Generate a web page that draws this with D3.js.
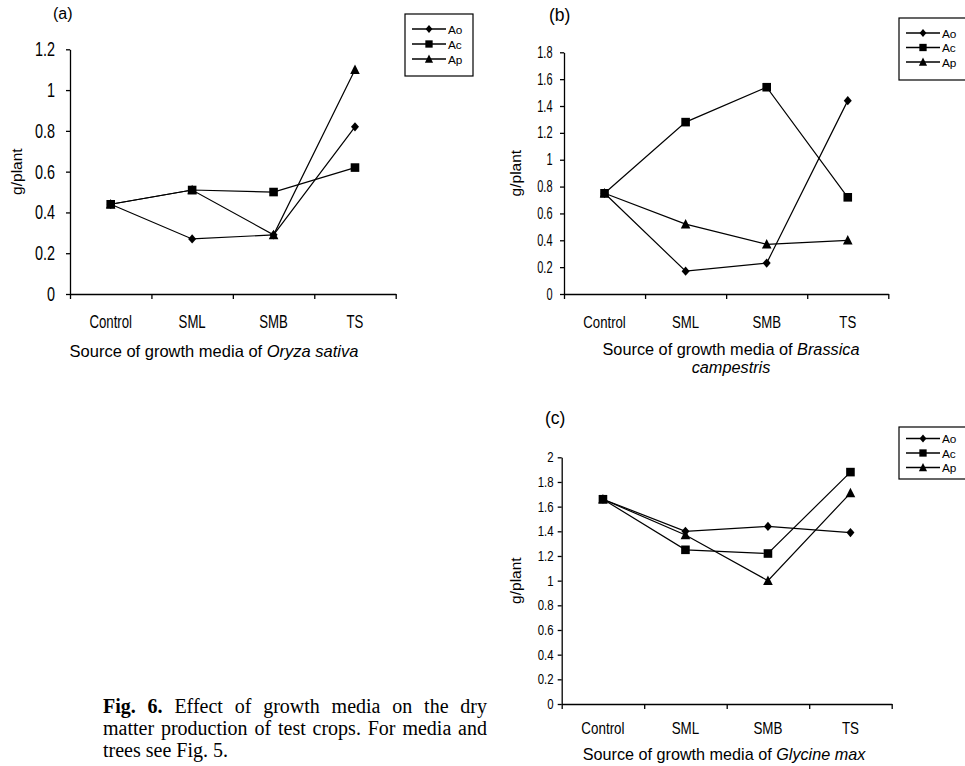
<!DOCTYPE html>
<html>
<head>
<meta charset="utf-8">
<script src="https://cdn.jsdelivr.net/npm/d3@7"></script>
<style>
  body { margin: 0; background: #fff; }
  svg { display: block; }
</style>
</head>
<body>
<script>
// categories and series
var categories = ["Control", "SML", "SMB", "TS"];
var seriesNames = ["Ao", "Ac", "Ap"];

// (a) Oryza sativa
var oryzaAo = [0.44, 0.27, 0.29, 0.82];
var oryzaAc = [0.44, 0.51, 0.50, 0.62];
var oryzaAp = [0.44, 0.51, 0.29, 1.10];

// (b) Brassica campestris
var brassicaAo = [0.75, 0.17, 0.23, 1.44];
var brassicaAc = [0.75, 1.28, 1.54, 0.72];
var brassicaAp = [0.75, 0.52, 0.37, 0.40];

// (c) Glycine max
var glycineAo = [1.66, 1.40, 1.44, 1.39];
var glycineAc = [1.66, 1.25, 1.22, 1.88];
var glycineAp = [1.66, 1.37, 1.00, 1.71];

// y tick values and labels
var ticksA = [0, 0.2, 0.4, 0.6, 0.8, 1, 1.2];
var tickLabelsA = ["0", "0.2", "0.4", "0.6", "0.8", "1", "1.2"];
var ticksB = [0, 0.2, 0.4, 0.6, 0.8, 1, 1.2, 1.4, 1.6, 1.8];
var tickLabelsB = ["0", "0.2", "0.4", "0.6", "0.8", "1", "1.2", "1.4", "1.6", "1.8"];
var ticksC = [0, 0.2, 0.4, 0.6, 0.8, 1, 1.2, 1.4, 1.6, 1.8, 2];
var tickLabelsC = ["0", "0.2", "0.4", "0.6", "0.8", "1", "1.2", "1.4", "1.6", "1.8", "2"];

var captionLines = [
  [["Fig. 6.", true], ["Effect of growth media on the dry", false]],
  [["matter production of test crops. For media and", false]],
  [["trees see Fig. 5.", false]]
];

var svgWidth = 965;
var svgHeight = 766;
var sans = "'Liberation Sans', Arial, Helvetica, sans-serif";
var serif = "'Liberation Serif', 'Times New Roman', Times, serif";

var svg = d3.select("body")
  .append("svg")
  .attr("width", svgWidth)
  .attr("height", svgHeight);

// layout of each panel
var panels = [
  {
    series: [oryzaAo, oryzaAc, oryzaAp], ticks: ticksA, tickLabels: tickLabelsA, yMax: 1.2,
    left: 70, right: 395.7, top: 49.3, bottom: 294,
    tickFont: 14.4, tickSy: 1.38, tickPad: 11,
    catFont: 13.2, catSy: 1.37, catBase: 328,
    ylabX: 21.5,
    label: "(a)", labelX: 53, labelY: 19, labelFont: 16,
    title: [[["Source of growth media of ", false], ["Oryza sativa", true]]],
    titleX: 214, titleY: [357], titleFont: 16.5,
    legend: { x: 405, y: 14, w: 68, h: 62, rows: [29, 44, 59] }
  },
  {
    series: [brassicaAo, brassicaAc, brassicaAp], ticks: ticksB, tickLabels: tickLabelsB, yMax: 1.8,
    left: 564, right: 888.3, top: 52.3, bottom: 294,
    tickFont: 11, tickSy: 1.45, tickPad: 7.5,
    catFont: 13.2, catSy: 1.24, catBase: 328,
    ylabX: 521,
    label: "(b)", labelX: 549, labelY: 21, labelFont: 17.5,
    title: [[["Source of growth media of ", false], ["Brassica", true]], [["campestris", true]]],
    titleX: 731, titleY: [355, 373], titleFont: 16.3,
    legend: { x: 899, y: 18, w: 70, h: 62, rows: [33, 47.5, 62] }
  },
  {
    series: [glycineAo, glycineAc, glycineAp], ticks: ticksC, tickLabels: tickLabelsC, yMax: 2,
    left: 561.7, right: 891.7, top: 457.3, bottom: 704,
    tickFont: 11.4, tickSy: 1.25, tickPad: 4.2,
    catFont: 13.4, catSy: 1.22, catBase: 734,
    ylabX: 521,
    label: "(c)", labelX: 545, labelY: 424, labelFont: 17.5,
    title: [[["Source of growth media of ", false], ["Glycine max", true]]],
    titleX: 724, titleY: [760], titleFont: 16.2,
    legend: { x: 899, y: 427, w: 70, h: 52, rows: [438.5, 453, 467.5] }
  }
];

var markerTypes = ["diamond", "square", "triangle"];

function markerPath(type, k) {
  k = k || 1;
  if (type === "diamond") {
    var w = 4 * k, h = 4.6 * k;
    return "M0," + (-h) + "L" + w + ",0L0," + h + "L" + (-w) + ",0Z";
  }
  if (type === "square") {
    var s = 4.3 * k;
    return "M" + (-s) + "," + (-s) + "h" + (2 * s) + "v" + (2 * s) + "h" + (-2 * s) + "Z";
  }
  var hw = 4.8 * k, top = -5.2 * k, base = 4.3 * k;
  return "M0," + top + "L" + hw + "," + base + "L" + (-hw) + "," + base + "Z";
}

function drawPanel(p) {
  var g = svg.append("g");

  var x = d3.scaleBand().domain(categories).range([p.left, p.right]).padding(0);
  var xEdges = d3.scaleLinear().domain([0, categories.length]).range([p.left, p.right]);
  var y = d3.scaleLinear().domain([0, p.yMax]).range([p.bottom, p.top]);

  // x axis: line with ticks at category boundaries
  var xAxis = g.append("g")
    .attr("transform", `translate(0, ${p.bottom})`)
    .call(d3.axisBottom(xEdges)
      .tickValues(d3.range(categories.length + 1))
      .tickFormat("")
      .tickSize(5)
      .tickSizeOuter(0));
  xAxis.selectAll("path, line").attr("stroke", "#000").attr("stroke-width", 1.3);

  // y axis
  var yAxis = g.append("g")
    .attr("transform", `translate(${p.left}, 0)`)
    .call(d3.axisLeft(y)
      .tickValues(p.ticks)
      .tickFormat((d, i) => p.tickLabels[i])
      .tickSize(4)
      .tickPadding(p.tickPad)
      .tickSizeOuter(0));
  yAxis.attr("font-family", sans).attr("font-size", p.tickFont);
  yAxis.selectAll("path, line").attr("stroke", "#000").attr("stroke-width", 1.3);
  yAxis.selectAll("text")
    .attr("fill", "#000")
    .attr("transform", `scale(1, ${p.tickSy})`);

  // category labels
  g.selectAll("text.cat")
    .data(categories)
    .join("text")
    .attr("class", "cat")
    .attr("transform", d => `translate(${x(d) + x.bandwidth() / 2}, ${p.catBase}) scale(1, ${p.catSy})`)
    .attr("text-anchor", "middle")
    .attr("font-family", sans)
    .attr("font-size", p.catFont)
    .text(d => d);

  // y label
  g.append("text")
    .attr("transform", `translate(${p.ylabX}, ${(p.top + p.bottom) / 2}) rotate(-90)`)
    .attr("text-anchor", "middle")
    .attr("font-family", sans)
    .attr("font-size", 15.5)
    .text("g/plant");

  // panel label
  g.append("text")
    .attr("x", p.labelX)
    .attr("y", p.labelY)
    .attr("font-family", sans)
    .attr("font-size", p.labelFont)
    .text(p.label);

  // x title
  p.title.forEach(function (line, i) {
    var t = g.append("text")
      .attr("x", p.titleX)
      .attr("y", p.titleY[i])
      .attr("text-anchor", "middle")
      .attr("font-family", sans)
      .attr("font-size", p.titleFont);
    line.forEach(function (part) {
      t.append("tspan")
        .attr("font-style", part[1] ? "italic" : "normal")
        .text(part[0]);
    });
  });

  // series lines and markers
  var line = d3.line()
    .x((d, i) => x(categories[i]) + x.bandwidth() / 2)
    .y(d => y(d));

  p.series.forEach(function (values, s) {
    g.append("path")
      .datum(values)
      .attr("d", line)
      .attr("fill", "none")
      .attr("stroke", "#000")
      .attr("stroke-width", 1.2);

    g.selectAll("path.m" + s)
      .data(values)
      .join("path")
      .attr("class", "m" + s)
      .attr("d", markerPath(markerTypes[s]))
      .attr("transform", (d, i) => `translate(${x(categories[i]) + x.bandwidth() / 2}, ${y(d)})`)
      .attr("fill", "#000");
  });

  // legend
  var L = p.legend;
  var lg = g.append("g");
  lg.append("rect")
    .attr("x", L.x).attr("y", L.y)
    .attr("width", L.w).attr("height", L.h)
    .attr("fill", "#fff")
    .attr("stroke", "#000")
    .attr("stroke-width", 1.2);

  seriesNames.forEach(function (name, s) {
    var ry = L.rows[s];
    lg.append("line")
      .attr("x1", L.x + 7).attr("x2", L.x + 41)
      .attr("y1", ry).attr("y2", ry)
      .attr("stroke", "#000").attr("stroke-width", 1.3);
    lg.append("path")
      .attr("d", markerPath(markerTypes[s], 0.85))
      .attr("transform", `translate(${L.x + 24}, ${ry})`)
      .attr("fill", "#000");
    lg.append("text")
      .attr("x", L.x + 43)
      .attr("y", ry + 4.5)
      .attr("font-family", sans)
      .attr("font-size", 11.8)
      .text(name);
  });
}

panels.forEach(drawPanel);

// caption, justified lines
var capX = 103, capRight = 487, capFont = 20;
var capBase = [713, 735, 757];
var capG = svg.append("g")
  .attr("font-family", serif)
  .attr("font-size", capFont)
  .attr("fill", "#000");

captionLines.forEach(function (parts, li) {
  var words = [];
  parts.forEach(function (part) {
    part[0].split(" ").forEach(function (w) { words.push({ text: w, bold: part[1] }); });
  });
  var nodes = words.map(function (w) {
    return capG.append("text")
      .attr("y", capBase[li])
      .attr("font-weight", w.bold ? "bold" : "normal")
      .text(w.text);
  });
  var widths = nodes.map(n => n.node().getComputedTextLength());
  var total = d3.sum(widths);
  var justify = li < captionLines.length - 1;
  var gap = justify ? (capRight - capX - total) / (words.length - 1) : capFont * 0.25;
  var cx = capX;
  nodes.forEach(function (n, i) {
    n.attr("x", cx);
    cx += widths[i] + gap;
  });
});
</script>
</body>
</html>
